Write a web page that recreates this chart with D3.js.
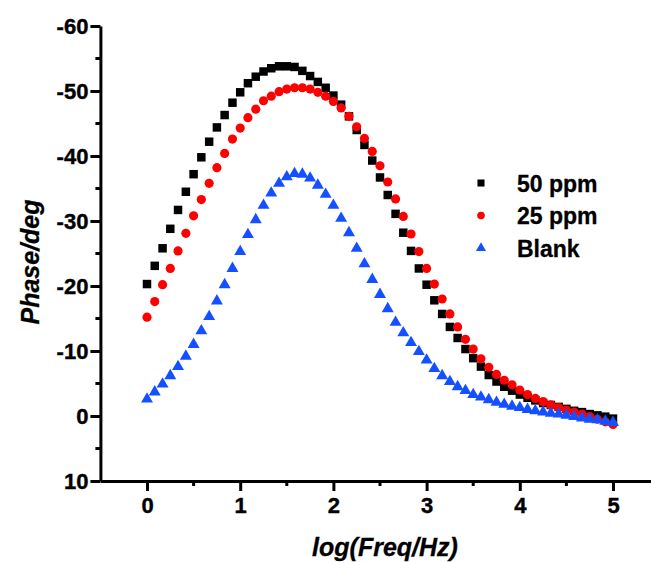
<!DOCTYPE html>
<html><head><meta charset="utf-8">
<script src="https://cdn.jsdelivr.net/npm/d3@7"></script>
<style>html,body{margin:0;padding:0;background:#fff;overflow:hidden}</style>
</head><body>
<svg id="c" width="651" height="562"></svg>
<script>
const logFreq = [0,0.083,0.167,0.25,0.333,0.417,0.5,0.583,0.667,0.75,0.833,0.917,
 1,1.083,1.167,1.25,1.333,1.417,1.5,1.583,1.667,1.75,1.833,1.917,
 2,2.083,2.167,2.25,2.333,2.417,2.5,2.583,2.667,2.75,2.833,2.917,
 3,3.083,3.167,3.25,3.333,3.417,3.5,3.583,3.667,3.75,3.833,3.917,
 4,4.083,4.167,4.25,4.333,4.417,4.5,4.583,4.667,4.75,4.833,4.917,5];
const ppm50 = [-20.3,-23.1,-25.8,-28.8,-31.7,-34.5,-37.2,-39.8,-42.2,-44.4,-46.3,-48.2,
 -49.8,-51.2,-52.2,-53.0,-53.5,-53.8,-53.8,-53.7,-53.1,-52.3,-51.4,-50.5,
 -49.3,-47.9,-46.1,-44.0,-41.7,-39.3,-36.7,-34.0,-31.1,-28.2,-25.4,-22.7,
 -20.2,-17.8,-15.7,-13.7,-12.0,-10.3,-8.9,-7.6,-6.3,-5.3,-4.5,-3.9,
 -3.3,-2.8,-2.4,-2.0,-1.7,-1.4,-1.1,-0.8,-0.6,-0.3,-0.1,0.1,0.4];
const ppm25 = [-15.2,-17.6,-20.2,-22.7,-25.4,-28.1,-30.8,-33.3,-35.8,-38.2,-40.4,-42.6,
 -44.3,-45.9,-47.2,-48.5,-49.2,-49.9,-50.3,-50.5,-50.5,-50.3,-49.8,-49.2,
 -48.4,-47.4,-46.1,-44.5,-42.7,-40.7,-38.5,-36.0,-33.4,-30.7,-28.0,-25.3,
 -22.7,-20.3,-18.0,-15.7,-13.7,-11.8,-10.3,-8.8,-7.5,-6.4,-5.5,-4.8,
 -4.0,-3.3,-2.7,-2.2,-1.7,-1.3,-0.9,-0.6,-0.3,0.1,0.5,0.9,1.3];
const blank = [-2.6,-3.7,-4.9,-6.2,-7.6,-9.2,-11.0,-13.1,-15.3,-17.7,-20.2,-22.7,
 -25.3,-27.9,-30.2,-32.4,-34.3,-35.8,-36.8,-37.3,-37.2,-36.6,-35.5,-34.1,
 -32.4,-30.4,-28.2,-25.8,-23.4,-21.0,-18.7,-16.5,-14.4,-12.8,-11.3,-9.9,
 -8.6,-7.3,-6.2,-5.3,-4.5,-3.9,-3.3,-2.9,-2.5,-2.1,-1.8,-1.5,
 -1.3,-1.0,-0.8,-0.6,-0.4,-0.3,-0.1,0.1,0.3,0.5,0.6,0.8,1.0];
const seriesNames = ["50 ppm","25 ppm","Blank"];
const xTicks = [0,1,2,3,4,5];
const xMinor = [0.5,1.5,2.5,3.5,4.5];
const yTicks = [-60,-50,-40,-30,-20,-10,0,10];
const yMinor = [-55,-45,-35,-25,-15,-5,5];

const svg = d3.select("#c");
const FONT = "'Liberation Sans', Arial, sans-serif";
const x = d3.scaleLinear().domain([-0.5,5.5]).range([100.4,659.6]);
const y = d3.scaleLinear().domain([10,-60]).range([481,26]);

const series = [
  {name:seriesNames[0], values:ppm50, color:"#000000", sym:d3.symbolSquare, size:72, lsize:50},
  {name:seriesNames[1], values:ppm25, color:"#ff0000", sym:d3.symbolCircle, size:66, lsize:46},
  {name:seriesNames[2], values:blank, color:"#1450ff", sym:d3.symbolTriangle, size:62, lsize:44}
];

series.forEach(s=>{
  svg.append("g").selectAll("path").data(s.values).join("path")
    .attr("d", d3.symbol().type(s.sym).size(s.size))
    .attr("transform",(d,i)=>`translate(${x(logFreq[i])},${y(d)})`)
    .attr("fill", s.color);
});

const styleAxis = g=>{
  g.select(".domain").attr("stroke","#000").attr("stroke-width",3);
  g.selectAll(".tick line").attr("stroke","#000").attr("stroke-width",3);
  g.selectAll("text").attr("font-family",FONT).attr("font-weight","bold")
    .attr("font-size",22).attr("fill","#000").attr("stroke","#000").attr("stroke-width",0.4);
};
const gx = svg.append("g").attr("transform",`translate(0,${y(10)})`)
  .call(d3.axisBottom(x).tickValues(xTicks).tickSize(10).tickSizeOuter(0).tickPadding(6).tickFormat(d=>String(d)))
  .call(styleAxis);
gx.append("g").selectAll("line").data(xMinor).join("line")
  .attr("x1",d=>x(d)).attr("x2",d=>x(d)).attr("y1",0).attr("y2",5)
  .attr("stroke","#000").attr("stroke-width",3);

const gy = svg.append("g").attr("transform",`translate(${x(-0.5)},0)`)
  .call(d3.axisLeft(y).tickValues(yTicks).tickSize(10).tickSizeOuter(0).tickPadding(2).tickFormat(d=>String(d)))
  .call(styleAxis);
gy.append("g").selectAll("line").data(yMinor).join("line")
  .attr("y1",d=>y(d)).attr("y2",d=>y(d)).attr("x1",0).attr("x2",-5)
  .attr("stroke","#000").attr("stroke-width",3);

svg.append("text").attr("x",385).attr("y",556).attr("text-anchor","middle")
  .attr("font-family",FONT).attr("font-weight","bold").attr("font-style","italic")
  .attr("font-size",25).attr("stroke","#000").attr("stroke-width",0.3).text("log(Freq/Hz)");
svg.append("text").attr("transform","translate(39,262) rotate(-90)").attr("text-anchor","middle")
  .attr("font-family",FONT).attr("font-weight","bold").attr("font-style","italic")
  .attr("font-size",25).attr("stroke","#000").attr("stroke-width",0.3).text("Phase/deg");

const lg = svg.append("g");
series.forEach((s,i)=>{
  const ly = 183 + i*32.5;
  lg.append("path").attr("d", d3.symbol().type(s.sym).size(s.lsize)())
    .attr("transform",`translate(481,${ly})`).attr("fill",s.color);
  lg.append("text").attr("x",517).attr("y",ly+8.5)
    .attr("font-family",FONT).attr("font-weight","bold").attr("font-size",23)
    .attr("stroke","#000").attr("stroke-width",0.3)
    .text(s.name);
});
</script>
</body></html>
